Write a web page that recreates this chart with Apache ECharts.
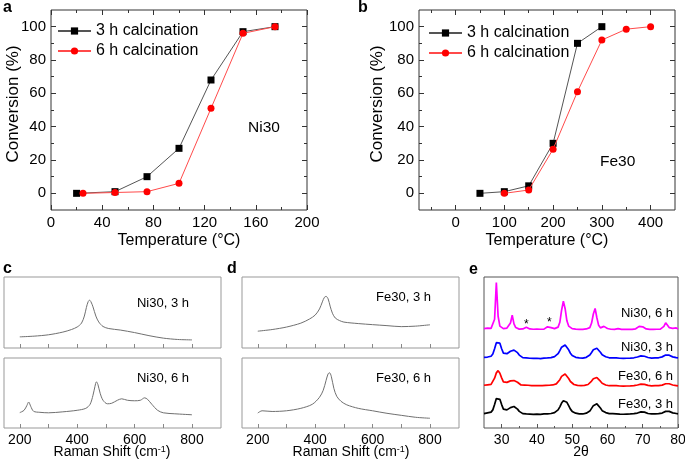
<!DOCTYPE html>
<html><head><meta charset="utf-8">
<script src="https://cdn.jsdelivr.net/npm/echarts@6/dist/echarts.min.js"></script>
<style>html,body{margin:0;padding:0;background:#fff}#c{width:685px;height:459px}</style>
</head><body><div id="c"></div>
<script>
// ---------- DATA ----------
const seriesNames = ['3 h calcination', '6 h calcination'];
// panel a (Ni30)
const tempA3 = [20, 50, 75, 100, 125, 150, 175];
const convA3 = [0, 1, 10, 27, 68, 97, 100];
const tempA6 = [25, 50, 75, 100, 125, 150, 175];
const convA6 = [0, 0.5, 1, 6, 51, 96, 100];
// panel b (Fe30)
const tempB3 = [50, 100, 150, 200, 250, 300];
const convB3 = [0, 1, 4.5, 30, 90, 100];
const tempB6 = [100, 150, 200, 250, 300, 350, 400];
const convB6 = [0, 2, 26.5, 61, 92, 98.5, 100];
// tick labels
const convTicks = [0, 20, 40, 60, 80, 100];
const convMinor = [10, 30, 50, 70, 90];
const tempTicksA = [0, 40, 80, 120, 160, 200];
const tempMinorA = [20, 60, 100, 140, 180];
const tempTicksB = [0, 100, 200, 300, 400];
const tempMinorB = [-50, 50, 150, 250, 350];
const ramanTicks = [200, 400, 600, 800];
const ramanAllTicks = [200, 300, 400, 500, 600, 700, 800];
const xrdTicks = [30, 40, 50, 60, 70, 80];
const xrdMinor = [35, 45, 55, 65, 75];
// panel c / d Raman spectra (arbitrary intensity, 0-100 of the box)
const ramanNi3X = [200,250,300,350,380,400,415,425,432,438,443,448,455,465,475,490,510,550,600,650,700,750,800];
const ramanNi3Y = [15.7,16.7,18.6,22.4,26,29.6,35,45,57,65,67.4,65,58,45,36.7,30.3,27.4,25.3,21.7,17.4,13.9,12,11.4];
const ramanNi6X = [200,215,225,231,238,248,270,300,350,400,430,445,455,462,467,472,480,490,505,520,540,555,575,600,620,635,645,660,680,700,740,800];
const ramanNi6Y = [22,25.3,32.4,37.1,31,23.9,22.4,21.7,23.1,25.3,28.1,33.9,46.7,59.6,66,62.4,49.6,39.6,34.6,35.3,39.6,41.7,39.6,38.9,39.6,43.1,41,33.9,25.3,21.7,20.3,18.9];
const ramanFe3X = [200,250,300,350,380,400,415,425,432,438,445,452,460,470,485,500,550,600,650,700,750,800];
const ramanFe3Y = [23.7,26,29.5,35,40.8,46.4,55,65,71.3,72.7,69.2,59,49,42.2,38.6,36.5,34.4,32.9,31.5,30.1,30.8,32.7];
const ramanFe6X = [200,215,250,300,350,390,415,428,438,445,450,456,465,475,490,510,550,600,650,700,750,800];
const ramanFe6Y = [21.4,24.6,23.6,24.6,28.1,33.9,43.9,53.9,68.1,77.4,78.9,73.9,56.7,45.3,38.1,33.1,28.1,24.6,21,18.1,15.3,13.9];
// panel e XRD (stacked, arbitrary units)
const xrdTheta = [25,25.5,26,26.5,27,27.5,28,28.5,29,29.5,30,30.5,31,31.5,32,32.5,33,33.5,34,34.5,35,35.5,36,36.5,37,37.5,38,38.5,39,39.5,40,40.5,41,41.5,42,42.5,43,43.5,44,44.5,45,45.5,46,46.5,47,47.5,48,48.5,49,49.5,50,50.5,51,51.5,52,52.5,53,53.5,54,54.5,55,55.5,56,56.5,57,57.5,58,58.5,59,59.5,60,60.5,61,61.5,62,62.5,63,63.5,64,64.5,65,65.5,66,66.5,67,67.5,68,68.5,69,69.5,70,70.5,71,71.5,72,72.5,73,73.5,74,74.5,75,75.5,76,76.5,77,77.5,78,78.5,79,79.5,80];
const xrdFe3 = [9.5,8.5,10,9,10.5,12,15.5,19.5,20.8,19,15.5,12.5,11.8,12,12.5,13.5,14,14.2,13.8,12.5,11,10,9.5,10,9.3,9.8,9.2,9.6,9,9.5,9.2,9.4,9,9.5,9.3,9.6,9.4,9.8,9.6,10,10.2,10.8,12,14,16.5,18,18.2,17,14.8,12.5,11,10.2,9.8,9.6,9.4,9.5,9.3,9.6,9.8,10.3,11.2,13,14.8,15.8,16,15,13.2,11.5,10.8,10.2,9.8,9.5,9.3,9.5,9.2,9.4,9.3,9.2,9.4,9.1,9.3,9.2,9.4,9.3,9.2,9.5,9.6,9.9,10.3,10.7,10.8,10.5,10,9.6,9.4,9.3,9.2,9.4,9.3,9.5,9.6,9.9,10.5,11,11.3,11,10.5,10,9.8,9.6,9.4];
const xrdFe6 = [28.3,27.5,28.6,27.8,28.9,30.2,33,36.5,38,36.3,33.2,30.5,30,30.2,30.6,31.2,31.5,31.4,31.2,30.3,29.2,28.5,28.2,28.4,27.9,28.3,27.8,28.1,27.7,28.1,27.9,28,27.7,28.1,27.9,28.2,28,28.3,28.2,28.5,28.7,29.2,30.3,32,34.2,35.5,35.8,34.8,32.8,30.8,29.5,28.8,28.4,28.2,28,28.1,27.9,28.2,28.4,28.8,29.6,31.1,32.6,33.3,33.4,32.6,31,29.6,29,28.5,28.2,28,27.9,28.1,27.8,28,27.9,27.8,28,27.7,27.9,27.8,28,27.9,27.8,28.1,28.2,28.5,28.8,29.1,29.1,28.9,28.5,28.2,28,27.9,27.8,28,27.9,28.1,28.2,28.4,28.9,29.3,29.5,29.3,28.9,28.5,28.3,28.1,27.9];
const xrdNi3 = [46.8,45.6,47,46,47.5,49,52.5,56.5,57.8,56.2,52.5,49.6,48.8,49.2,49.8,50.8,51.3,51.6,51.2,49.9,48.3,47.2,46.6,47,46.4,46.9,46.2,46.6,46.1,46.5,46.2,46.4,46,46.5,46.3,46.6,46.4,46.8,46.6,47,47.3,47.9,49.2,51.2,53.5,54.8,55,53.9,51.8,49.5,48,47.2,46.8,46.6,46.4,46.5,46.3,46.6,46.8,47.3,48.3,50,51.8,52.6,52.8,51.9,50.2,48.5,47.8,47.2,46.8,46.5,46.3,46.5,46.2,46.4,46.3,46.2,46.4,46.1,46.3,46.2,46.4,46.3,46.2,46.5,46.7,47,47.4,47.8,47.8,47.5,47,46.7,46.5,46.3,46.2,46.4,46.3,46.5,46.7,47.1,47.7,48.3,48.5,48.2,47.6,47.1,46.8,46.6,46.4];
const xrdNi6 = [65.8,65,66.2,65.4,66,66.5,72,96.3,74,67.5,66.3,65.8,66,66.2,66.8,69.5,74.7,69,66.5,65.8,65.5,65.8,65.6,66.2,66.8,66.2,65.6,65.8,65.4,65.7,65.5,65.7,65.4,65.6,65.5,66,67,68,66.5,65.9,65.8,66,66.8,70,78,84,79,71,67.5,66.3,65.8,65.6,65.5,65.4,65.3,65.5,65.3,65.4,65.6,65.8,66.5,69.5,75.5,79.2,73,68,66.3,66,67.3,66.8,65.9,65.6,65.4,65.5,65.3,65.5,65.8,65.4,65.3,65.2,65.3,65.2,65.4,65.3,65.3,65.5,65.7,66.3,67.3,67.8,67,66,65.6,65.4,65.3,65.2,65.3,65.2,65.4,65.3,65.5,65.9,67.3,69.7,68.5,66.5,65.8,66,67.2,66.3,65.5];
const starTheta = [37, 43.5];
const starLevel = [68.5, 70];

// ---------- CHART ----------
const FONT = "'Liberation Sans', Arial, sans-serif";
const zip = (xs, ys) => xs.map((x, i) => [x, ys[i]]);
const xAxes = [], yAxes = [];
function ax(list, grid, min, max, pos, ticks, len, color, labels, fs) {
  list.push({
    type: 'value', gridIndex: grid, min: min, max: max, position: pos,
    axisLine: { show: false, onZero: false }, splitLine: { show: false },
    axisTick: ticks ? { show: true, inside: true, length: len, customValues: ticks, lineStyle: { color: color, width: 1 } } : { show: false },
    axisLabel: labels ? { show: true, customValues: labels, margin: 5, color: '#000', fontSize: fs, fontFamily: FONT } : { show: false }
  });
  return list.length - 1;
}
const grids = [
  { left: 51, top: 10, width: 256, height: 200, show: true, borderColor: '#333', borderWidth: 1, outerBoundsMode: 'none' },
  { left: 419, top: 10, width: 256, height: 200, show: true, borderColor: '#333', borderWidth: 1, outerBoundsMode: 'none' },
  { left: 4, top: 277, width: 217, height: 71, show: true, borderColor: '#999', borderWidth: 1, outerBoundsMode: 'none' },
  { left: 4, top: 358, width: 217, height: 70, show: true, borderColor: '#999', borderWidth: 1, outerBoundsMode: 'none' },
  { left: 242, top: 277, width: 217, height: 71, show: true, borderColor: '#999', borderWidth: 1, outerBoundsMode: 'none' },
  { left: 242, top: 358, width: 217, height: 70, show: true, borderColor: '#999', borderWidth: 1, outerBoundsMode: 'none' },
  { left: 484, top: 277, width: 194, height: 151, show: true, borderColor: '#555', borderWidth: 1, outerBoundsMode: 'none' }
];
// panel a
const xa = ax(xAxes, 0, 0, 200, 'bottom', tempTicksA, 5, '#333', tempTicksA, 15);
ax(xAxes, 0, 0, 200, 'bottom', tempMinorA, 3, '#333', null);
ax(xAxes, 0, 0, 200, 'top', tempTicksA, 5, '#333', null);
ax(xAxes, 0, 0, 200, 'top', tempMinorA, 3, '#333', null);
const ya = ax(yAxes, 0, -10, 110, 'left', convTicks, 5, '#333', convTicks, 15);
ax(yAxes, 0, -10, 110, 'left', convMinor, 3, '#333', null);
ax(yAxes, 0, -10, 110, 'right', convTicks, 5, '#333', null);
ax(yAxes, 0, -10, 110, 'right', convMinor, 3, '#333', null);
// panel b
const xb = ax(xAxes, 1, -75, 450, 'bottom', tempTicksB, 5, '#333', tempTicksB, 15);
ax(xAxes, 1, -75, 450, 'bottom', tempMinorB, 3, '#333', null);
ax(xAxes, 1, -75, 450, 'top', tempTicksB, 5, '#333', null);
ax(xAxes, 1, -75, 450, 'top', tempMinorB, 3, '#333', null);
const yb = ax(yAxes, 1, -10, 110, 'left', convTicks, 5, '#333', convTicks, 15);
ax(yAxes, 1, -10, 110, 'left', convMinor, 3, '#333', null);
ax(yAxes, 1, -10, 110, 'right', convTicks, 5, '#333', null);
ax(yAxes, 1, -10, 110, 'right', convMinor, 3, '#333', null);
// panels c, d
const xc1 = ax(xAxes, 2, 145, 901, 'bottom', ramanAllTicks, 4, '#888', null);
const yc1 = ax(yAxes, 2, 0, 100, 'left', null, 0, '#888', null);
const xc2 = ax(xAxes, 3, 145, 901, 'bottom', ramanAllTicks, 4, '#888', ramanTicks, 14);
const yc2 = ax(yAxes, 3, 0, 100, 'left', null, 0, '#888', null);
const xd1 = ax(xAxes, 4, 145, 901, 'bottom', ramanAllTicks, 4, '#888', null);
const yd1 = ax(yAxes, 4, 0, 100, 'left', null, 0, '#888', null);
const xd2 = ax(xAxes, 5, 145, 901, 'bottom', ramanAllTicks, 4, '#888', ramanTicks, 14);
const yd2 = ax(yAxes, 5, 0, 100, 'left', null, 0, '#888', null);
// panel e
const xe = ax(xAxes, 6, 25, 80, 'bottom', xrdTicks, 4, '#555', xrdTicks, 14);
ax(xAxes, 6, 25, 80, 'bottom', xrdMinor, 2, '#555', null);
const ye = ax(yAxes, 6, 0, 100, 'left', null, 0, '#555', null);

function conv(name, x, y, xi, yi, color, lineColor, sym) {
  return { type: 'line', name: name, xAxisIndex: xi, yAxisIndex: yi, data: zip(x, y),
    symbol: sym, symbolSize: 7, showSymbol: true, itemStyle: { color: color },
    lineStyle: { color: lineColor, width: 1 }, z: sym === 'circle' ? 3 : 2 };
}
function spec(x, y, xi, yi, color, w) {
  return { type: 'line', data: zip(x, y), xAxisIndex: xi, yAxisIndex: yi, symbol: 'none',
    lineStyle: { color: color, width: w }, silent: true };
}
const series = [
  conv(seriesNames[0], tempA3, convA3, xa, ya, '#000', '#555', 'rect'),
  conv(seriesNames[1], tempA6, convA6, xa, ya, '#ff0000', '#ff4a4a', 'circle'),
  conv(seriesNames[0], tempB3, convB3, xb, yb, '#000', '#555', 'rect'),
  conv(seriesNames[1], tempB6, convB6, xb, yb, '#ff0000', '#ff4a4a', 'circle'),
  Object.assign(spec(ramanNi3X, ramanNi3Y, xc1, yc1, '#707070', 1), { smooth: 0.3 }),
  Object.assign(spec(ramanNi6X, ramanNi6Y, xc2, yc2, '#707070', 1), { smooth: 0.3 }),
  Object.assign(spec(ramanFe3X, ramanFe3Y, xd1, yd1, '#707070', 1), { smooth: 0.3 }),
  Object.assign(spec(ramanFe6X, ramanFe6Y, xd2, yd2, '#707070', 1), { smooth: 0.3 }),
  spec(xrdTheta, xrdFe3, xe, ye, '#000000', 1.7),
  spec(xrdTheta, xrdFe6, xe, ye, '#ff0000', 1.7),
  spec(xrdTheta, xrdNi3, xe, ye, '#0000ff', 1.7),
  Object.assign(spec(xrdTheta, xrdNi6, xe, ye, '#ff00ff', 1.7), {
    markPoint: { symbol: 'circle', symbolSize: 0, silent: true,
      label: { show: true, formatter: '*', color: '#000', fontSize: 12, fontFamily: FONT, position: 'inside' },
      data: zip(starTheta, starLevel).map(c => ({ coord: c })) }
  })
];

function txt(x, y, s, size, align, extra) {
  return Object.assign({ type: 'text', x: x, y: y, silent: true,
    style: { text: s, fill: '#000', font: size + 'px ' + FONT, align: align || 'center', verticalAlign: 'middle' } }, extra || {});
}
function bold(x, y, s) {
  return { type: 'text', x: x, y: y, silent: true,
    style: { text: s, fill: '#000', font: 'bold 16px ' + FONT, align: 'left', verticalAlign: 'middle' } };
}
function raman(x, y) {
  return { type: 'text', x: x, y: y, silent: true,
    style: { text: 'Raman Shift (cm{sup|-1})', fill: '#000', font: '14px ' + FONT, align: 'center', verticalAlign: 'middle',
      rich: { sup: { fontSize: 9, fontFamily: FONT, verticalAlign: 'top', lineHeight: 10, padding: [0, 0, 6, 0] } } } };
}
const graphic = [
  bold(3, 8, 'a'), bold(358, 8, 'b'), bold(3, 269, 'c'), bold(227, 269, 'd'), bold(469, 270, 'e'),
  txt(13, 104, 'Conversion (%)', 17, 'center', { rotation: Math.PI / 2 }),
  txt(377, 104, 'Conversion (%)', 17, 'center', { rotation: Math.PI / 2 }),
  txt(179, 241, 'Temperature (\u00B0C)', 16),
  txt(547, 241, 'Temperature (\u00B0C)', 16),
  txt(248, 128, 'Ni30', 15.5, 'left'),
  txt(600, 162, 'Fe30', 15.5, 'left'),
  txt(189, 303, 'Ni30, 3 h', 13, 'right'),
  txt(189, 378, 'Ni30, 6 h', 13, 'right'),
  txt(431, 297, 'Fe30, 3 h', 13, 'right'),
  txt(431, 378, 'Fe30, 6 h', 13, 'right'),
  raman(112, 452), raman(351, 452),
  txt(581, 452, '2\u03B8', 14),
  txt(673, 313, 'Ni30, 6 h', 13, 'right'),
  txt(673, 347, 'Ni30, 3 h', 13, 'right'),
  txt(673, 376, 'Fe30, 6 h', 13, 'right'),
  txt(673, 404, 'Fe30, 3 h', 13, 'right')
];
const legendBase = { orient: 'vertical', padding: 0, itemWidth: 33, itemHeight: 9, itemGap: 4, selectedMode: false,
  textStyle: { fontSize: 16, fontFamily: FONT, color: '#000' }, data: seriesNames };
const chart = echarts.init(document.getElementById('c'), null, { renderer: 'canvas' });
chart.setOption({
  animation: false, backgroundColor: '#fff',
  grid: grids, xAxis: xAxes, yAxis: yAxes, series: series, graphic: graphic,
  legend: [Object.assign({ left: 57, top: 23 }, legendBase), Object.assign({ left: 428, top: 25 }, legendBase)]
});
</script></body></html>
